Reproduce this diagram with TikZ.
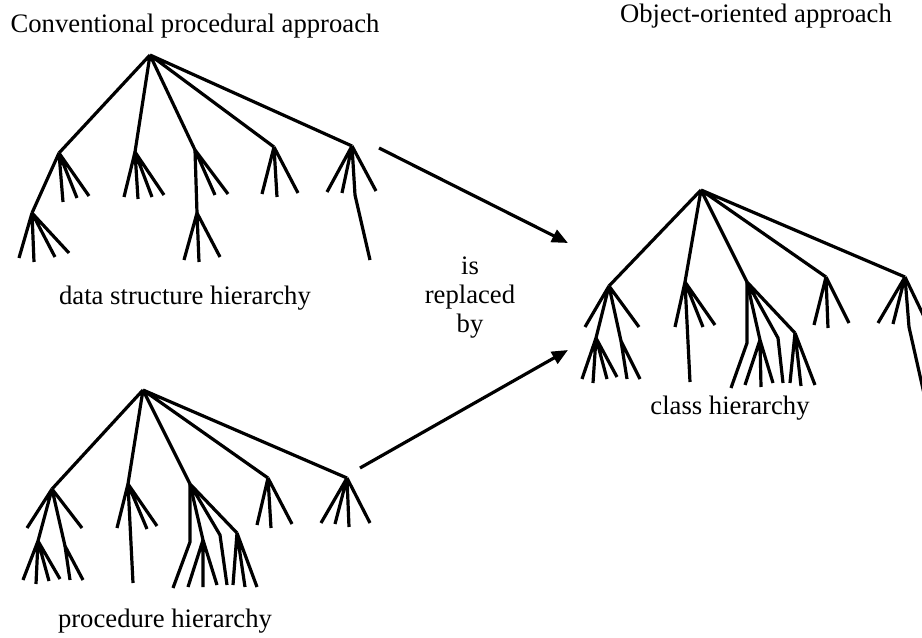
\documentclass[tikz,border=0pt]{standalone}
\usepackage{fontspec}
\setmainfont{Liberation Serif}
\usetikzlibrary{arrows.meta}
\begin{document}
\begin{tikzpicture}[x=0.75pt,y=-0.75pt,
  br/.style={line width=2.4pt},
  arr/.style={line width=2.4pt,-{Triangle[length=12pt,width=10pt]}},
  lbl/.style={font=\fontsize{20}{21.75}\selectfont, inner sep=0pt, align=center}]
\useasboundingbox (0,0) rectangle (922,638);
\begin{scope}
\clip (0,0) rectangle (922,638);
% ---------- Tree A: data structure hierarchy ----------
\coordinate (A) at (150,55);
\coordinate (A1) at (59,153);
\coordinate (A2) at (135,152);
\coordinate (A3) at (195,150);
\coordinate (A4) at (274,147);
\coordinate (A5) at (352,146);
\coordinate (A11) at (32,213);
\coordinate (A31) at (197,213);
\draw[br] (A) -- (A1) (A) -- (A2) (A) -- (A3) (A) -- (A4) (A) -- (A5);
\draw[br] (A1) -- (A11) (A1) -- (63,202) (A1) -- (77,198) (A1) -- (89,196);
\draw[br] (A11) -- (19,258) (A11) -- (34,262) (A11) -- (55,257) (A11) -- (69,253);
\draw[br] (A2) -- (124,197) (A2) -- (138,199) (A2) -- (152,197) (A2) -- (164,195);
\draw[br] (A3) -- (A31) (A3) -- (215,195) (A3) -- (228,194);
\draw[br] (A31) -- (184,260) (A31) -- (199,262) (A31) -- (220,257);
\draw[br] (A4) -- (262,194) (A4) -- (277,197) (A4) -- (298,193);
\draw[br] (A5) -- (327,192) (A5) -- (342,193) (A5) -- (376,191);
\draw[br] (A5) -- (355,195) -- (370,260);
% ---------- Tree B: procedure hierarchy ----------
\coordinate (B) at (143,390);
\coordinate (B1) at (52,489);
\coordinate (B2) at (128,484);
\coordinate (B3) at (190,484);
\coordinate (B4) at (268,478);
\coordinate (B5) at (347,478);
\coordinate (B11) at (38,541);
\coordinate (B12) at (65,546);
\coordinate (B31) at (203,540);
\coordinate (B32) at (237,533);
\draw[br] (B) -- (B1) (B) -- (B2) (B) -- (B3) (B) -- (B4) (B) -- (B5);
\draw[br] (B1) -- (27,528) (B1) -- (82,528) (B1) -- (B11) (B1) -- (B12);
\draw[br] (B11) -- (23,580) (B11) -- (36,584) (B11) -- (49,581) (B11) -- (60,579);
\draw[br] (B12) -- (70,580) (B12) -- (83,580);
\draw[br] (B2) -- (117,528) (B2) -- (147,529) (B2) -- (157,526) (B2) -- (133,583);
\draw[br] (B3) -- (190,542) -- (173,588);
\draw[br] (B3) -- (B31) (B3) -- (220,535) -- (227,585) (B3) -- (B32);
\draw[br] (B31) -- (188,587) (B31) -- (203,587) (B31) -- (217,585);
\draw[br] (B32) -- (233,585) (B32) -- (245,587) (B32) -- (257,587);
\draw[br] (B4) -- (257,525) (B4) -- (271,528) (B4) -- (292,524);
\draw[br] (B5) -- (321,523) (B5) -- (335,524) (B5) -- (349,527) (B5) -- (370,523);
% ---------- Tree C: class hierarchy ----------
\coordinate (C) at (701,190);
\coordinate (C1) at (609,286);
\coordinate (C2) at (685,282);
\coordinate (C3) at (747,282);
\coordinate (C4) at (826,277);
\coordinate (C5) at (905,277);
\coordinate (C11) at (596,338);
\coordinate (C12) at (621,341);
\coordinate (C31) at (760,340);
\coordinate (C32) at (795,333);
\draw[br] (C) -- (C1) (C) -- (C2) (C) -- (C3) (C) -- (C4) (C) -- (C5);
\draw[br] (C1) -- (585,327) (C1) -- (639,327) (C1) -- (C11) (C1) -- (C12);
\draw[br] (C11) -- (582,379) (C11) -- (593,383) (C11) -- (607,379) (C11) -- (617,377);
\draw[br] (C12) -- (627,379) (C12) -- (640,379);
\draw[br] (C2) -- (675,327) (C2) -- (703,327) (C2) -- (715,325) (C2) -- (690,382);
\draw[br] (C3) -- (747,343) -- (731,388);
\draw[br] (C3) -- (C31) (C3) -- (778,338) -- (783,383) (C3) -- (C32);
\draw[br] (C31) -- (745,385) (C31) -- (761,387) (C31) -- (773,383);
\draw[br] (C32) -- (790,383) (C32) -- (801,386) (C32) -- (815,385);
\draw[br] (C4) -- (814,325) (C4) -- (828,328) (C4) -- (849,323);
\draw[br] (C5) -- (878,323) (C5) -- (893,324) (C5) -- (929,327);
\draw[br] (C5) -- (909,327) -- (925,398);
\end{scope}
% ---------- arrows ----------
\coordinate (s1) at (379,148);
\coordinate (t1) at (568,243);
\coordinate (s2) at (360,468);
\coordinate (t2) at (568,350);
\draw[arr] (s1) -- (t1);
\draw[arr] (s2) -- (t2);
% ---------- labels ----------
\node[lbl, anchor=base] (h1) at (195,33) {Conventional procedural approach};
\node[lbl, anchor=base] (h2) at (756,23) {Object-oriented approach};
\node[lbl] (rep) at (470,298) {is\\replaced\\by};
\node[lbl, anchor=base] (l1) at (185,305) {data structure hierarchy};
\node[lbl, anchor=base] (l2) at (730,414) {class hierarchy};
\node[lbl, anchor=base] (l3) at (165,627) {procedure hierarchy};
\end{tikzpicture}
\end{document}
